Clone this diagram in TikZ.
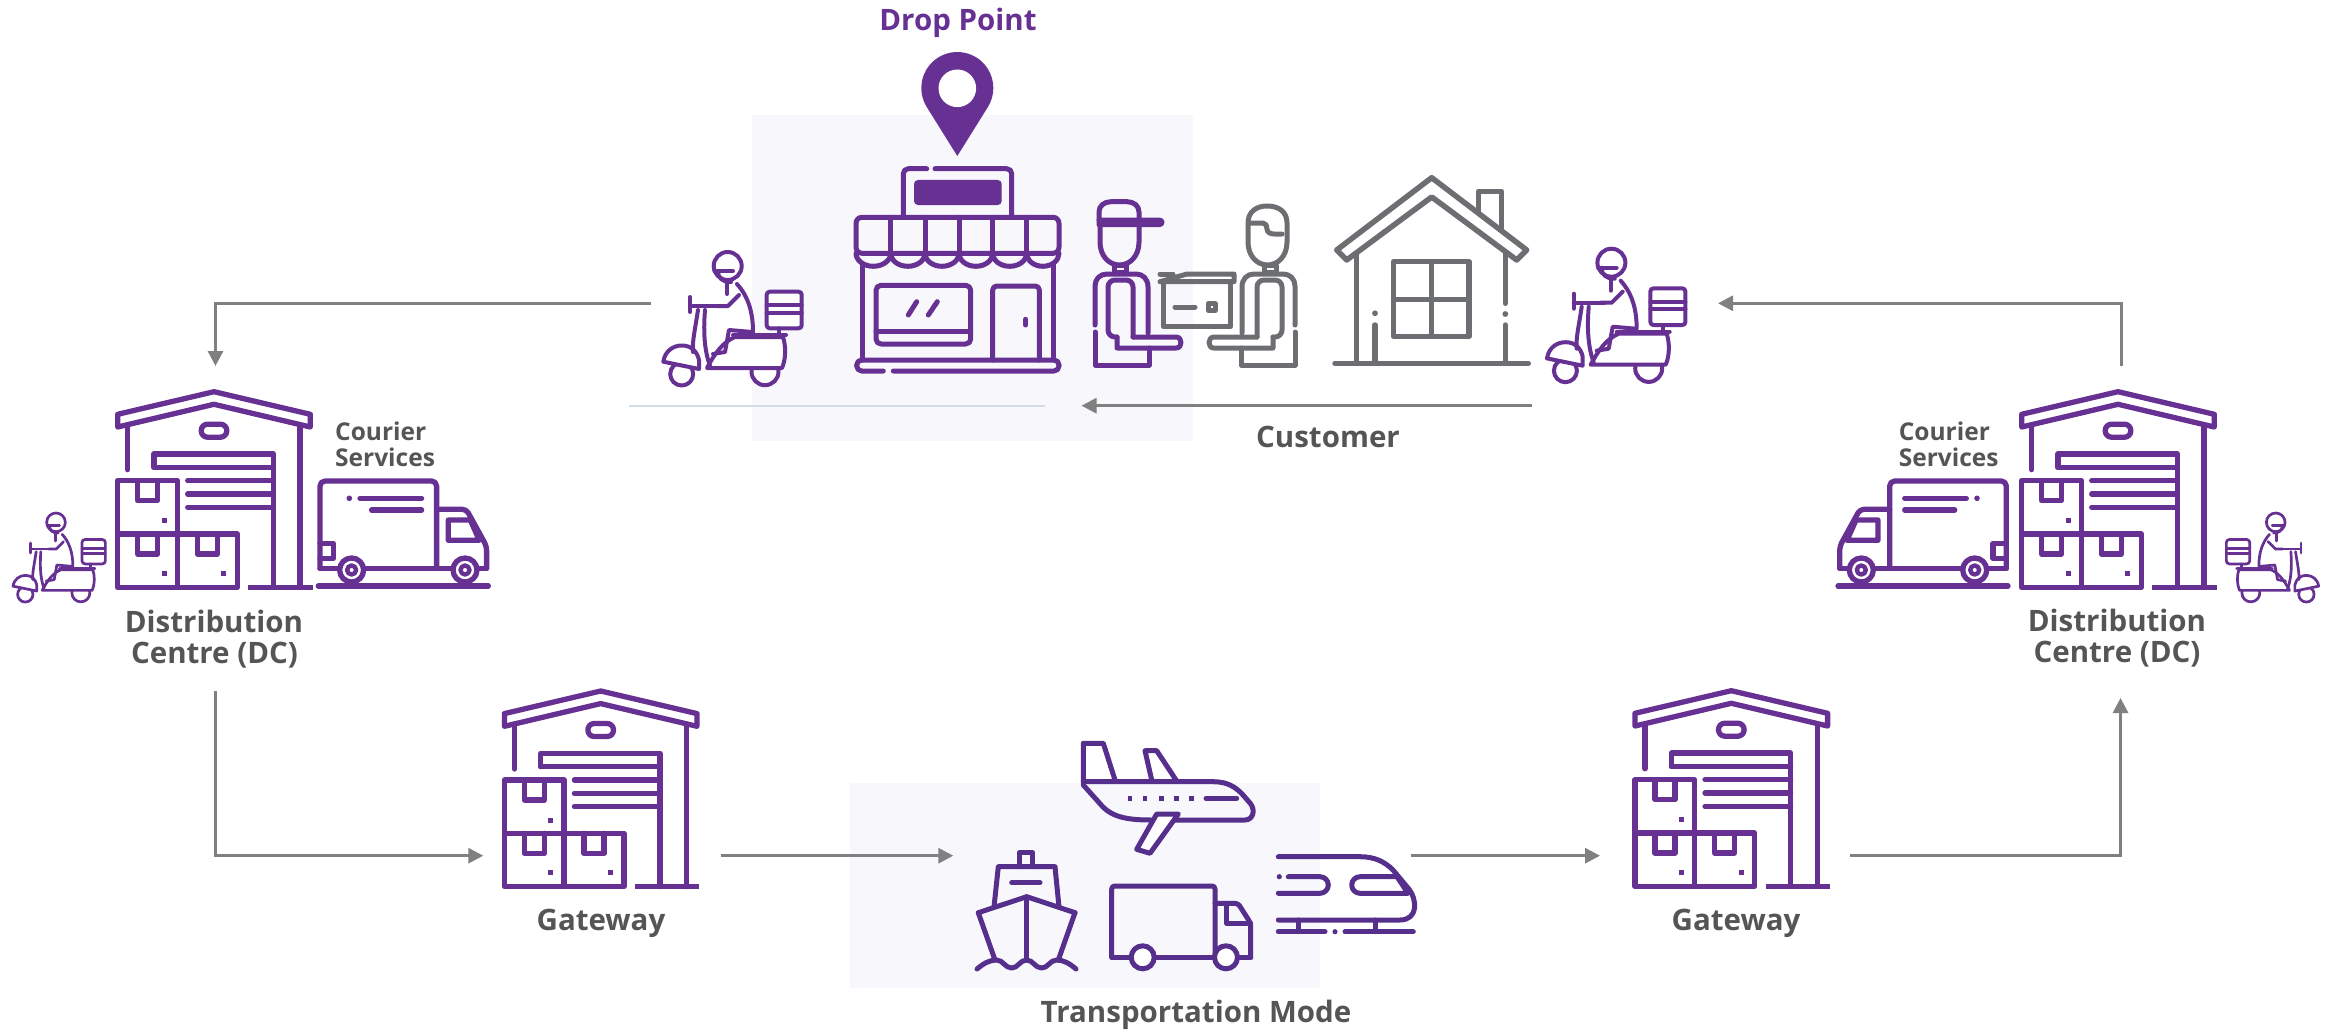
\documentclass[tikz,border=0pt]{standalone}
\usepackage{fontspec}
\setmainfont{Open Sans}
\usetikzlibrary{arrows.meta}

\definecolor{brand}{HTML}{663192}
\definecolor{brandB}{HTML}{552F8B}
\definecolor{ink}{HTML}{555555}
\definecolor{hgray}{HTML}{6D6E71}
\definecolor{arrowgray}{HTML}{808080}
\definecolor{panel}{HTML}{F7F7FC}
\definecolor{hairline}{HTML}{D3DCE4}

% warehouse icon, local frame 198 x 200, y pointing down
\newcommand{\warehouse}{%
  \draw (2.7,25.3) -- (99,2.7) -- (195.3,25.3) -- (195.3,38) -- (99,15.3) -- (2.7,38) -- cycle;
  \draw (12.7,36) -- (12.7,80.7);
  \draw (185,36) -- (185,198.3);
  \draw[rounded corners=6.3] (86.2,35.2) rectangle (111.8,48.2);
  \draw (39,78.3) -- (39,65) -- (158.3,65) -- (158.3,198.3);
  \draw (39,78.3) -- (158.3,78.3);
  \foreach \v in {91.7,105,118.3} \draw (72.7,\v) -- (158.3,\v);
  \draw (2.7,91.7) rectangle (62.3,145);
  \draw (2.7,145) rectangle (62.3,198.3);
  \draw (62.3,145) rectangle (122.3,198.3);
  \draw[line cap=butt] (133.3,198.3) -- (197.7,198.3);
  \draw (22.7,91.7) -- (22.7,111.7) -- (42.7,111.7) -- (42.7,91.7);
  \draw (22.7,145) -- (22.7,165) -- (42.7,165) -- (42.7,145);
  \draw (82.3,145) -- (82.3,165) -- (102.3,165) -- (102.3,145);
  \fill (46.5,129.2) rectangle (51.5,134.2);
  \fill (46.5,181.8) rectangle (51.5,186.8);
  \fill (106.2,181.8) rectangle (111.2,186.8);
}

% delivery scooter, local frame about 145 x 140, y pointing down
\newcommand{\scooter}{%
  \draw[fill=white] (110,131.7) circle (13.5);
  \draw[fill=white] (26.7,134) circle (11.5);
  \draw[fill=white] (80,97) -- (128,97) .. controls (131,106) and (131,119) .. (127,128)
        -- (52,128) .. controls (60,113) and (68,102) .. (80,97) -- cycle;
  \draw[fill=white] (8.3,121.7) .. controls (10,111) and (18,105.5) .. (27,105.5)
        .. controls (36,105.5) and (42,111) .. (44,120) -- (44,129) -- cycle;
  \draw (43,70) .. controls (40,90) and (37,102) .. (38,112);
  \draw (50,70) .. controls (48,95) and (50,112) .. (55,126);
  \draw (35,57) -- (35,72);
  \draw (35,66) -- (66,66);
  \draw (72.7,26) circle (14);
  \draw (59.5,31) -- (78,31);
  \draw (63,31) .. controls (63,38) and (67,42) .. (76,42);
  \draw (82,44) .. controls (92,55) and (98,70) .. (98,92);
  \draw (72,43) -- (72,54);
  \draw (84,55) -- (73,66) -- (62,66);
  \draw (97,92) -- (74,90) -- (70,112) -- (58,114);
  \draw (78,95) -- (131,95);
  \draw[rounded corners=3, fill=white] (111.7,51.7) rectangle (146.7,88.3);
  \draw (111.7,65) -- (146.7,65);
  \draw (111.7,72.7) -- (146.7,72.7);
  \draw (124,88.3) -- (124,95);
}

% courier van, local frame 170 x 110, y pointing down
\newcommand{\courierTruck}{%
  \draw (1.7,90) -- (168.3,90);
  \draw[rounded corners=5] (1.7,90) -- (1.7,2.7) -- (118.3,2.7) -- (118.3,90);
  \draw[rounded corners=4] (118.3,31) -- (148,31) -- (168.3,68) -- (168.3,90);
  \draw (130,41.7) -- (152,41.7) -- (161,62) -- (130,62) -- cycle;
  \draw (1.7,65) -- (15,65) -- (15,80) -- (1.7,80);
  \fill (31,20) circle (2.8);
  \draw (41.7,20) -- (103.3,20);
  \draw (53.3,31.7) -- (103.3,31.7);
  \draw[fill=white] (33.3,91.7) circle (12);
  \draw[fill=white] (146.7,91.7) circle (12);
  \draw[line width=4.4pt] (33.3,91.7) circle (4.5);
  \draw[line width=4.4pt] (146.7,91.7) circle (4.5);
  \draw (0,107.7) -- (170,107.7);
}

% standing figure (shoulders, vest, arm held forward, lower body)
\newcommand{\personBody}{%
  \draw (15,145) -- (15,106) .. controls (15,99) and (20,94) .. (27,94) -- (56,94)
        .. controls (63,94) and (68,99) .. (68,107) -- (68,153);
  \draw[rounded corners=7] (37,157) -- (28,157) -- (28,100) -- (53,100) -- (53,157);
  \draw (53,157) -- (96,157) .. controls (99.5,157) and (101,160) .. (101,162.5)
        .. controls (101,165.5) and (99.5,168) .. (96,168) -- (37,168) -- (37,157);
  \draw (15,152) -- (15,185) -- (69,185) -- (69,168);
  \draw (34,85) rectangle (46,92);
}

\begin{document}
\begin{tikzpicture}[x=1pt, y=-1pt, line cap=round, line join=round,
  flow/.style={draw=arrowgray, line width=3pt, line cap=butt, line join=miter,
               -{Triangle[length=15pt,width=15pt]}},
  caption/.style={font=\fontsize{29.5}{31}\selectfont\bfseries, text=ink, inner sep=0pt, anchor=base},
  subcap/.style={font=\fontsize{24.5}{26}\selectfont\bfseries, text=ink, inner sep=0pt, anchor=base west},
  icon/.style={color=brand, line width=5.3pt},
  iconB/.style={color=brandB, line width=5pt},
]
\useasboundingbox (0,0) rectangle (2330,1030);

% shaded panels
\fill[panel] (752,115) rectangle (1193,441);
\fill[panel] (850,783) rectangle (1320,988);

% hairline under the drop point
\draw[hairline, line width=2.2pt, line cap=butt] (629,405.7) -- (1045,405.7);

% connector end points
\coordinate (dpOut) at (650.6,303.3);
\coordinate (dcLbend) at (215.5,303.3);
\coordinate (dcLin) at (215.5,366);
\coordinate (custStart) at (1532,405.7);
\coordinate (custEnd) at (1081.5,405.7);
\coordinate (dcRout) at (2121,366);
\coordinate (dcRbend) at (2121,303.3);
\coordinate (scootR) at (1718,303.3);
\coordinate (dcLout) at (215.5,691);
\coordinate (dcLbend2) at (215.5,855.7);
\coordinate (gwLin) at (483.3,855.7);
\coordinate (gwLout) at (720.7,855.7);
\coordinate (tmIn) at (953.3,855.7);
\coordinate (tmOut) at (1410.7,855.7);
\coordinate (gwRin) at (1600,855.7);
\coordinate (gwRout) at (1850,855.7);
\coordinate (dcRbend2) at (2120.5,855.7);
\coordinate (dcRin) at (2120.5,698);

\draw[flow] (dpOut) -- (dcLbend) -- (dcLin);
\draw[flow] (custStart) -- (custEnd);
\draw[flow] (dcRout) -- (dcRbend) -- (scootR);
\draw[flow] (dcLout) -- (dcLbend2) -- (gwLin);
\draw[flow] (gwLout) -- (tmIn);
\draw[flow] (tmOut) -- (gwRin);
\draw[flow] (gwRout) -- (dcRbend2) -- (dcRin);

% warehouses
\begin{scope}[icon, shift={(115,389)}] \warehouse \end{scope}
\begin{scope}[icon, shift={(2019,389)}] \warehouse \end{scope}
\begin{scope}[icon, shift={(501.7,688.3)}] \warehouse \end{scope}
\begin{scope}[icon, shift={(1632.3,688)}] \warehouse \end{scope}

% courier vans
\begin{scope}[icon, shift={(318.3,478.3)}] \courierTruck \end{scope}
\begin{scope}[icon, shift={(2008,478.3)}, xscale=-1] \courierTruck \end{scope}

% scooters
\begin{scope}[color=brand, line width=4pt, shift={(655,240)}] \scooter \end{scope}
\begin{scope}[color=brand, line width=4pt, shift={(1538.7,236.7)}] \scooter \end{scope}
\begin{scope}[color=brand, line width=2.7pt, shift={(7.5,505)}, scale=0.667] \scooter \end{scope}
\begin{scope}[color=brand, line width=2.7pt, shift={(2324.2,505)}, xscale=-0.667, yscale=0.667] \scooter \end{scope}

% location pin
\fill[brand] (957.3,156) -- (926.8,107.1) arc[start angle=148, end angle=392, radius=36] -- cycle;
\fill[white] (957.3,88.3) circle (18.8);

% store
\begin{scope}[icon, line width=5pt, shift={(840,0)}]
  \draw[rounded corners=5] (86.7,168.7) -- (63.3,168.7) -- (63.3,215);
  \draw[rounded corners=5] (95,168.7) -- (171.7,168.7) -- (171.7,215);
  \fill[rounded corners=4] (74,180) rectangle (161.7,205);
  \draw[rounded corners=6] (16,253.3) -- (16,217.3) -- (219,217.3) -- (219,253.3) -- cycle;
  \foreach \u in {50.7,85,119,152.7,186.7} \draw (\u,217.3) -- (\u,253.3);
  \foreach \a/\b in {16/50.7,50.7/85,85/119,119/152.7,152.7/186.7,186.7/219}
    \draw (\a,253.3) arc[start angle=180, end angle=0, x radius={(\b-\a)/2}, y radius=13];
  \draw (22.7,263.5) -- (22.7,360);
  \draw (213.3,263.5) -- (213.3,360);
  \draw[rounded corners=5] (36,285.3) rectangle (130.7,344);
  \draw (36,331.7) -- (130.7,331.7);
  \draw (68.3,315) -- (76.7,301.7);
  \draw (88.3,315) -- (97.3,301.7);
  \draw[rounded corners=4] (152.7,360) -- (152.7,286) -- (199.3,286) -- (199.3,360);
  \draw (185.7,319.3) -- (185.7,325);
  \draw[rounded corners=5] (43.3,371) -- (16.7,371) -- (16.7,360) -- (219,360) -- (219,371) -- (53.3,371);
\end{scope}

% courier handing a parcel to the customer
\begin{scope}[shift={(1080,180)}, line width=5pt]
  % parcel
  \begin{scope}[color=hgray]
    \draw (80,94) -- (93,94);
    \draw (107,94) -- (154,94) -- (154,101.7) -- (80,101.7) -- cycle;
    \draw (83.3,101.7) -- (83.3,146.7) -- (150.7,146.7) -- (150.7,101.7);
    \draw (95,127) -- (115,127);
    \draw (128.3,123.3) rectangle (135,130.7);
  \end{scope}
  % courier
  \begin{scope}[color=brand]
    \draw (19,40) -- (19,32) .. controls (19,26) and (24,21.7) .. (31,21.7) -- (47,21.7)
          .. controls (54,21.7) and (59,26) .. (59,32) -- (59,40);
    \draw (19,40) -- (79,40) .. controls (81,40) and (82,41) .. (82,42.3)
          .. controls (82,43.7) and (81,44.7) .. (79,44.7) -- (19,44.7) -- cycle;
    \draw (20,45) -- (20,62) .. controls (20,76) and (29,85) .. (39.5,85)
          .. controls (50,85) and (59,76) .. (59,62) -- (59,45);
    \personBody
  \end{scope}
  % customer
  \begin{scope}[color=hgray]
    \draw (168,62) -- (168,43) .. controls (168,32) and (176,26) .. (187,26)
          .. controls (199,26) and (207,32) .. (207,43) -- (207,62)
          .. controls (207,76) and (198,85) .. (187.5,85)
          .. controls (177,85) and (168,76) .. (168,62);
    \draw (169,43) -- (183,43) .. controls (186,43) and (187,46) .. (187,49)
          .. controls (187,52) and (190,54) .. (194,54) -- (202,54);
    \begin{scope}[shift={(230,0)}, xscale=-1] \personBody \end{scope}
  \end{scope}
\end{scope}

% house
\begin{scope}[color=hgray, line width=5.5pt, shift={(1320,160)}]
  \draw (158.3,53) -- (158.3,31.7) -- (181.7,31.7) -- (181.7,70);
  \draw[fill=white] (16.7,90) -- (111.7,17.7) -- (206.7,90) -- (196.7,100) -- (111.7,37) -- (26.7,100) -- cycle;
  \draw (36.7,94) -- (36.7,203.3);
  \fill (55,153.3) circle (2.9);
  \draw (55,165) -- (55,203.3);
  \draw (185.3,94) -- (185.3,143.3);
  \fill (185.3,154) circle (2.9);
  \draw (185.3,165) -- (185.3,203.3);
  \draw (73.7,101.7) rectangle (149,176.3);
  \draw (111.3,101.7) -- (111.3,176.3);
  \draw (73.7,139.3) -- (149,139.3);
  \draw (15,203.3) -- (208.3,203.3);
\end{scope}

% transport modes
\begin{scope}[iconB, shift={(960,720)}]
  % aeroplane
  \draw (123.3,63) -- (123.3,23.3) -- (143.3,23.3) -- (155,60);
  \draw (191.7,60) -- (185,30.7) -- (196.7,30.7) -- (216.7,61);
  \draw (123.3,61.7) -- (253.3,61.7) .. controls (266,61.7) and (275,66) .. (283,75)
        -- (290,83) .. controls (296,90) and (293,100) .. (285,100) -- (190,100);
  \draw (123.3,65) -- (143,87) .. controls (152,96) and (165,100) .. (190,100);
  \draw (246,78.3) -- (276.7,78.3);
  \foreach \u in {170,185,201.7,216.7,231.7} \fill (\u-2.3,76) rectangle (\u+2.3,80.6);
  \draw[fill=white] (196.7,94) -- (218.3,94) -- (190,133.3) -- (176.7,129.3) -- cycle;
  % ship
  \draw (59.3,146.7) -- (59.3,132.7) -- (72.7,132.7) -- (72.7,146.7);
  \draw (34,187) -- (38.3,146.7) -- (95,146.7) -- (99,187);
  \draw (51.7,162.7) -- (80,162.7);
  \draw (18.3,192.7) -- (66.7,176.7) -- (115,192.7);
  \draw (18.3,192.7) -- (35,240);
  \draw (115,192.7) -- (98.3,240);
  \draw (66.7,176.7) -- (66.7,240);
  \draw (17,249) .. controls (24,243) and (30,240) .. (36.7,240)
        .. controls (43,240) and (45,248) .. (51.7,248)
        .. controls (58,248) and (60,240) .. (66.7,240)
        .. controls (73,240) and (75,248) .. (81.7,248)
        .. controls (88,248) and (90,240) .. (96.7,240)
        .. controls (103,240) and (109,243) .. (116,249);
  % lorry
  \draw (151.7,237.3) -- (290.7,237.3);
  \draw[rounded corners=3] (151.7,237.3) -- (151.7,166) -- (255,166) -- (255,237.3);
  \draw[rounded corners=3] (255,183.3) -- (278,183.3) -- (290.7,203.3) -- (290.7,237.3);
  \draw (266.7,183.3) -- (266.7,203.3) -- (290.7,203.3);
  \draw[fill=white] (182.7,237.3) circle (11.5);
  \draw[fill=white] (266,237.3) circle (11.5);
  % train
  \draw (318.3,136.7) -- (400,136.7) .. controls (415,136.7) and (425,142) .. (433,150)
        -- (448,168) .. controls (458,180) and (458,200) .. (440,200) -- (318.3,200);
  \fill (319.3,156.7) circle (2.6);
  \draw (328.3,156.7) -- (360,156.7) arc[start angle=-90, end angle=90, radius=8.3] -- (318.3,173.3);
  \draw (400,156.7) -- (437,156.7) -- (448,173.3) -- (400,173.3)
        arc[start angle=90, end angle=270, radius=8.3];
  \draw (318.3,211.7) -- (365,211.7);
  \fill (375,211.7) circle (2.6);
  \draw (385,211.7) -- (453.3,211.7);
  \draw (338.3,200) -- (338.3,211.7);
  \draw (415,200) -- (415,211.7);
\end{scope}

% captions
\node[caption, text=brand] (dropLbl) at (958,31) {Drop Point};
\node[caption] (dcLa) at (214,632) {Distribution};
\node[caption] (dcLb) at (214.5,663) {Centre (DC)};
\node[subcap] (csLa) at (335,440) {Courier};
\node[subcap] (csLb) at (335,466) {Services};
\node[caption] (dcRa) at (2117,631) {Distribution};
\node[caption] (dcRb) at (2117,662) {Centre (DC)};
\node[subcap] (csRa) at (1898.6,440) {Courier};
\node[subcap] (csRb) at (1898.6,466) {Services};
\node[caption] (gwLlbl) at (601,930) {Gateway};
\node[caption] (gwRlbl) at (1736,930) {Gateway};
\node[caption] (tmLbl) at (1196,1022) {Transportation Mode};
\node[caption] (custLbl) at (1328,447) {Customer};
\end{tikzpicture}
\end{document}
